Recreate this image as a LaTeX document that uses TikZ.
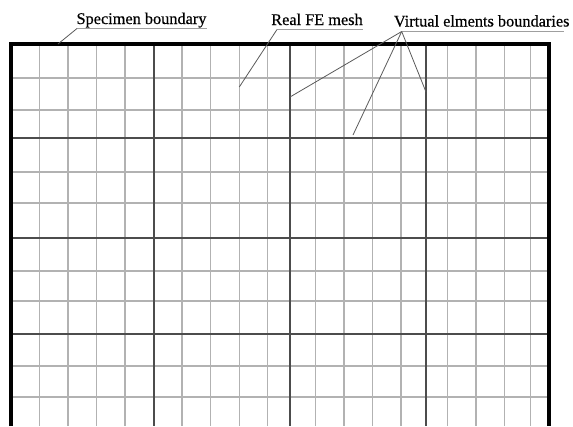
\documentclass[tikz,border=0pt]{standalone}
\usepackage{fontspec}
\setmainfont{Liberation Serif}
\newfontfamily\lblfont{Liberation Serif}[FakeBold=0.5]
\usetikzlibrary{positioning}
\tikzset{
  meshline/.style={gray!60,line width=1.1pt},
  virtline/.style={black!70,line width=1.9pt},
  specline/.style={black,line width=3.4pt,line join=miter},
  leader/.style={black!65,line width=0.8pt},
  underline/.style={gray!75,line width=0.8pt},
  lbl/.style={font=\lblfont\fontsize{16.3}{18}\selectfont,inner sep=0pt,anchor=base}
}
\begin{document}
\begin{tikzpicture}[x=1pt,y=-1pt]
  \useasboundingbox (0,0) rectangle (573,426);
  % Real FE mesh
  \foreach \y in {78,110,172,203,271,301,366,397}{
    \draw[meshline] (11,\y) -- (549,\y);
  }
  \foreach \x in {39.3,68,96.7,125,182,210.7,239.3,267.7,
                  315.7,344,372.7,401,447.7,476,504.3,530.7}{
    \draw[meshline] (\x,44) -- (\x,426);
  }
  % Virtual elements
  \foreach \y in {138,238,334}{
    \draw[virtline] (11,\y) -- (549,\y);
  }
  \foreach \x in {153.7,290,426}{
    \draw[virtline] (\x,44) -- (\x,426);
  }
  % Specimen boundary
  \draw[specline] (11,426) -- (11,44) -- (549,44) -- (549,426);
  % Labels
  \node[lbl] (spec) at (141.5,24) {Specimen boundary};
  \node[lbl] (mesh) at (317,25) {Real FE mesh};
  \node[lbl] (virt) at (481.7,26.5) {Virtual elments boundaries};
  \coordinate (specknee) at (77,28.5);
  \coordinate (specend)  at (207,28.5);
  \coordinate (specpt)   at (58,44);
  \coordinate (meshknee) at (277,29.5);
  \coordinate (meshend)  at (363,29.5);
  \coordinate (meshpt)   at (239.3,87);
  \coordinate (virtknee) at (401.7,31.5);
  \coordinate (virtend)  at (563.5,31.5);
  \coordinate (virtpa)   at (290,97);
  \coordinate (virtpb)   at (353,135);
  \coordinate (virtpc)   at (426,92);
  % Leaders
  \draw[underline] (specknee) -- (specend);
  \draw[underline] (meshknee) -- (meshend);
  \draw[underline] (virtknee) -- (virtend);
  \draw[leader] (specknee) -- (specpt);
  \draw[leader] (meshknee) -- (meshpt);
  \foreach \p in {virtpa,virtpb,virtpc}{
    \draw[leader] (virtknee) -- (\p);
  }
\end{tikzpicture}
\end{document}
